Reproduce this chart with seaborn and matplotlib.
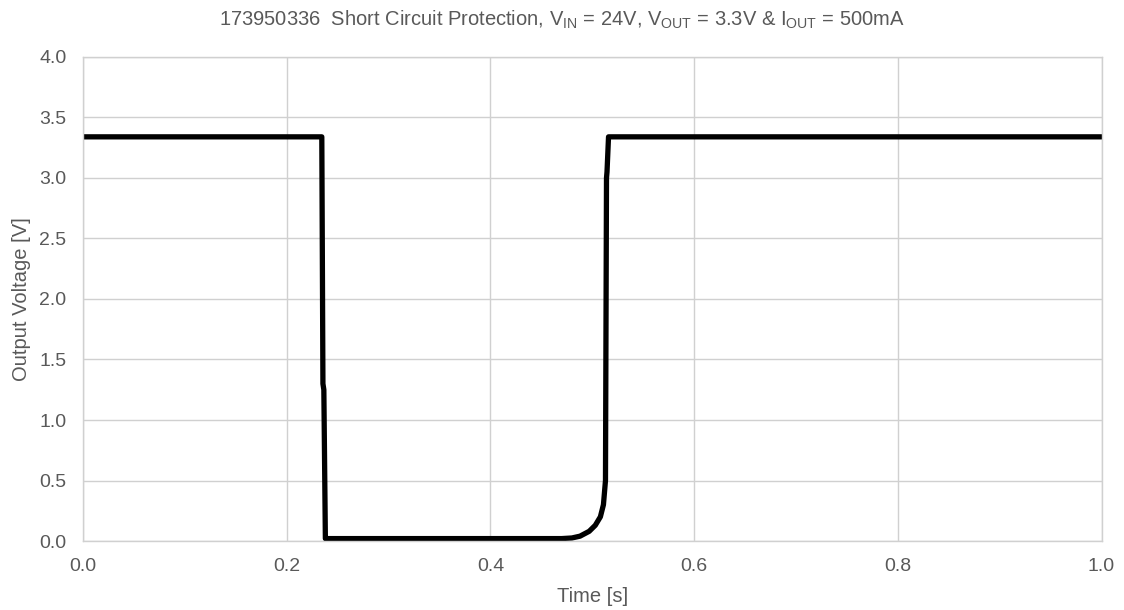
#!/usr/bin/env python3

import pandas as pd
import seaborn as sns
import matplotlib.pyplot as plt

# output voltage trace read from the scope capture
time_s = [0.000, 0.030, 0.060, 0.100, 0.130, 0.160, 0.200, 0.225, 0.2345,
          0.2356, 0.2365, 0.2380, 0.2400, 0.300, 0.350, 0.400, 0.440,
          0.470, 0.480, 0.488, 0.497, 0.503, 0.508, 0.511, 0.5130,
          0.5140, 0.5145, 0.5160, 0.530, 0.560, 0.600, 0.700, 0.800,
          0.850, 0.900, 1.000]
volt_v = [3.34, 3.34, 3.34, 3.34, 3.34, 3.34, 3.34, 3.34, 3.34,
          1.30, 1.25, 0.02, 0.02, 0.02, 0.02, 0.02, 0.02,
          0.02, 0.025, 0.04, 0.08, 0.13, 0.20, 0.30, 0.50,
          3.00, 3.05, 3.34, 3.34, 3.34, 3.34, 3.34, 3.34,
          3.34, 3.34, 3.34]

x_ticks = [0.0, 0.2, 0.4, 0.6, 0.8, 1.0]
y_ticks = [0.0, 0.5, 1.0, 1.5, 2.0, 2.5, 3.0, 3.5, 4.0]


def main():
    df = pd.DataFrame({"t": time_s, "v": volt_v})

    sns.set_style("whitegrid")
    plt.rcParams["font.family"] = ["Liberation Sans", "DejaVu Sans"]
    plt.rcParams["mathtext.fontset"] = "custom"
    plt.rcParams["mathtext.rm"] = "Liberation Sans"
    grey = "#595959"

    fig = plt.figure(figsize=(11.24, 6.10), dpi=100)
    ax = fig.add_axes([0.0738, 0.1131, 0.9062, 0.7935])

    sns.lineplot(data=df, x="t", y="v", ax=ax, color="black", linewidth=3.8,
                 estimator=None, sort=False)

    ax.set_xlim(0, 1.0)
    ax.set_ylim(0, 4.0)
    ax.set_xticks(x_ticks)
    ax.set_yticks(y_ticks)
    ax.set_xticklabels([f"{v:.1f}" for v in x_ticks])
    ax.set_yticklabels([f"{v:.1f}" for v in y_ticks])
    ax.tick_params(labelsize=14, colors=grey, length=0, pad=12)
    ax.grid(True, color="#d0d0d0", linewidth=1)
    for s in ax.spines.values():
        s.set_color("#d0d0d0")
        s.set_linewidth(1)

    ax.set_xlabel("Time [s]", fontsize=14.5, color=grey, labelpad=9)
    ax.set_ylabel("Output Voltage [V]", fontsize=14.5, color=grey, labelpad=6)
    fig.text(0.5, 1 - 20 / 610,
             r"173950336  Short Circuit Protection, V$_{\mathrm{IN}}$ = 24V, "
             r"V$_{\mathrm{OUT}}$ = 3.3V & I$_{\mathrm{OUT}}$ = 500mA",
             ha="center", va="center", fontsize=14.5, color=grey)

    fig.savefig("out.png", dpi=100)


if __name__ == '__main__':
    main()
